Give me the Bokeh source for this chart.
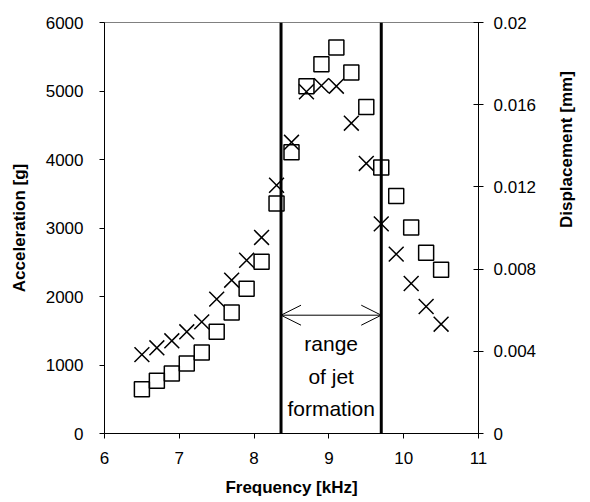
import math
from bokeh.plotting import figure
from bokeh.models import (Range1d, LinearAxis, FixedTicker, NumeralTickFormatter,
                          Arrow, OpenHead)
from bokeh.core.properties import value
from bokeh.embed import file_html
from bokeh.resources import INLINE

# ---- data ----
freq_khz = [6.5, 6.7, 6.9, 7.1, 7.3, 7.5, 7.7, 7.9, 8.1, 8.3, 8.5,
            8.7, 8.9, 9.1, 9.3, 9.5, 9.7, 9.9, 10.1, 10.3, 10.5]
acceleration_g = [647, 769, 876, 1022, 1182, 1484, 1766, 2112, 2506, 3358, 4105,
                  5070, 5390, 5635, 5270, 4765, 3883, 3467, 3007, 2640, 2390]
displacement_mm = [0.00384, 0.00417, 0.00451, 0.00495, 0.00543, 0.00654, 0.00746,
                   0.00843, 0.00954, 0.01208, 0.01417, 0.01663, 0.01693, 0.01690,
                   0.01510, 0.01314, 0.01020, 0.00873, 0.00730, 0.00618, 0.00532]
jet_range_khz = [8.36, 9.70]
range_text = ["range", "of jet", "formation"]
range_text_y = [1318, 837, 372]
arrow_y = 1727
x_ticks = [6, 7, 8, 9, 10, 11]
acc_ticks = [0, 1000, 2000, 3000, 4000, 5000, 6000]
disp_ticks = [0, 0.004, 0.008, 0.012, 0.016, 0.02]

FONT = "Liberation Sans"

p = figure(width=590, height=502, output_backend="svg", toolbar_location=None,
           x_range=Range1d(6, 11), y_range=Range1d(0, 6000),
           min_border_left=104, min_border_right=112, min_border_top=22,
           min_border_bottom=69, x_axis_location=None, y_axis_location=None)
p.extra_y_ranges = {"disp": Range1d(0, 0.02)}
p.xgrid.visible = False
p.ygrid.visible = False
p.outline_line_color = "#808080"
p.outline_line_width = 1
p.background_fill_color = "white"
p.border_fill_color = "white"

def style_axis(ax):
    ax.axis_line_color = "black"
    ax.axis_line_width = 1
    ax.major_tick_line_color = "black"
    ax.minor_tick_line_color = None
    ax.major_label_text_font = FONT
    ax.major_label_text_font_size = "17px"
    ax.major_label_text_color = "black"
    ax.axis_label_text_font = FONT
    ax.axis_label_text_font_size = "17px"
    ax.axis_label_text_font_style = "bold"
    ax.axis_label_text_color = "black"

xaxis = LinearAxis(axis_label="Frequency [kHz]", ticker=FixedTicker(ticks=x_ticks))
style_axis(xaxis)
xaxis.major_tick_out = 5
xaxis.major_tick_in = 0
xaxis.major_label_standoff = 13
xaxis.axis_label_standoff = 11
p.add_layout(xaxis, "below")

yaxis = LinearAxis(axis_label="Acceleration [g]", ticker=FixedTicker(ticks=acc_ticks))
style_axis(yaxis)
yaxis.major_tick_out = 5
yaxis.major_tick_in = 0
yaxis.major_label_standoff = 16
yaxis.axis_label_standoff = 14
p.add_layout(yaxis, "left")

raxis = LinearAxis(y_range_name="disp", axis_label="Displacement [mm]",
                   ticker=FixedTicker(ticks=disp_ticks),
                   formatter=NumeralTickFormatter(format="0.[000]"))
style_axis(raxis)
raxis.major_tick_out = 5
raxis.major_tick_in = 5
raxis.major_label_standoff = 10
raxis.axis_label_standoff = 27
raxis.axis_label_orientation = math.pi / 2
p.add_layout(raxis, "right")

# jet-formation boundaries
p.segment(x0=jet_range_khz, x1=jet_range_khz, y0=[0, 0], y1=[6000, 6000],
          line_color="black", line_width=3)

# data
p.scatter(freq_khz, acceleration_g, marker="square", size=15,
          fill_color=None, line_color="black", line_width=1.5)
p.scatter(freq_khz, displacement_mm, marker="x", size=21, y_range_name="disp",
          line_color="black", line_width=1.5)

# double arrow
p.add_layout(Arrow(start=OpenHead(size=20, line_color="black", line_width=1),
                   end=OpenHead(size=20, line_color="black", line_width=1),
                   x_start=jet_range_khz[0], x_end=jet_range_khz[1],
                   y_start=arrow_y, y_end=arrow_y, line_color="black", line_width=1))

mid = (jet_range_khz[0] + jet_range_khz[1]) / 2
p.text(x=[mid] * len(range_text), y=range_text_y, text=range_text,
       text_font=value(FONT), text_font_size="21px", text_color="black",
       text_align="center", text_baseline="middle")

open("out.html", "w").write(file_html(p, INLINE))
